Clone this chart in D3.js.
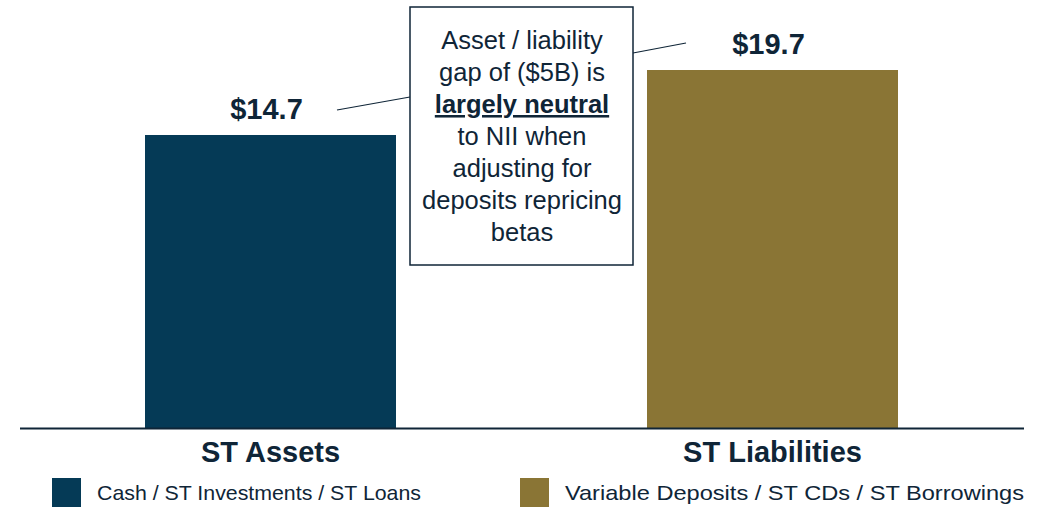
<!DOCTYPE html>
<html>
<head>
<meta charset="utf-8">
<script src="https://cdn.jsdelivr.net/npm/d3@7"></script>
<style>
  body { margin: 0; background: #fff; }
  text { font-family: Arial, "Liberation Sans", sans-serif; fill: #0f2537; }
</style>
</head>
<body>
<div class="chart_gap"></div>
<script>
// data
var categories = ["ST Assets", "ST Liabilities"];
var values = [14.7, 19.7];
var valueLabels = ["$14.7", "$19.7"];
var legendLabels = ["Cash / ST Investments / ST Loans", "Variable Deposits / ST CDs / ST Borrowings"];
var calloutLines = ["Asset / liability", "gap of ($5B) is", "largely neutral", "to NII when", "adjusting for", "deposits repricing", "betas"];

var colors = ["#053a56", "#8a7535"];

var svgWidth = 1042, svgHeight = 508;
var baseY = 428;

var svg = d3.select(".chart_gap")
    .append("svg")
    .attr("width", svgWidth)
    .attr("height", svgHeight);

// x scale: two bands
var xScale = d3.scaleBand()
    .domain(categories)
    .range([19.5, 1023.5])
    .paddingInner(0.5)
    .paddingOuter(0.25);

// y scale (bars in the source are not drawn from zero)
var yScale = d3.scaleLinear()
    .domain([-7.84, 19.7])
    .range([baseY, 70]);

var data = categories.map(function (c, i) {
    return { cat: c, value: values[i], label: valueLabels[i], color: colors[i] };
});

// bars
svg.selectAll("rect.bar")
    .data(data)
    .enter()
    .append("rect")
    .attr("class", "bar")
    .attr("x", function (d) { return xScale(d.cat); })
    .attr("y", function (d) { return yScale(d.value); })
    .attr("width", xScale.bandwidth())
    .attr("height", function (d) { return baseY - yScale(d.value); })
    .attr("fill", function (d) { return d.color; });

// value labels
svg.selectAll("text.value")
    .data(data)
    .enter()
    .append("text")
    .attr("class", "value")
    .attr("x", function (d) { return xScale(d.cat) + xScale.bandwidth() / 2 - 4; })
    .attr("y", function (d) { return yScale(d.value) - 16; })
    .attr("text-anchor", "middle")
    .style("font-size", "29px")
    .style("font-weight", "bold")
    .text(function (d) { return d.label; });

// baseline axis
var bottomAxis = d3.axisBottom(xScale).tickSize(0).tickPadding(13);
var axisG = svg.append("g")
    .attr("transform", "translate(0," + baseY + ")")
    .call(bottomAxis);
axisG.select(".domain").attr("stroke", "#0f2537").attr("stroke-width", 2);
axisG.selectAll(".tick text")
    .style("font-size", "29px")
    .style("font-weight", "bold")
    .style("font-family", "Arial, 'Liberation Sans', sans-serif")
    .attr("fill", "#0f2537");

// legend
var legendX = [52, 520];
var legendW = [324, 459];
var legend = svg.selectAll("g.legend")
    .data(data)
    .enter()
    .append("g")
    .attr("class", "legend")
    .attr("transform", function (d, i) { return "translate(" + legendX[i] + ",478)"; });
legend.append("rect")
    .attr("width", 29)
    .attr("height", 29)
    .attr("fill", function (d) { return d.color; });
legend.append("text")
    .attr("x", 45)
    .attr("y", 22)
    .attr("textLength", function (d, i) { return legendW[i]; })
    .attr("lengthAdjust", "spacingAndGlyphs")
    .style("font-size", "21px")
    .text(function (d, i) { return legendLabels[i]; });

// leader lines
svg.append("line")
    .attr("x1", 337).attr("y1", 110).attr("x2", 410).attr("y2", 97)
    .attr("stroke", "#0f2537").attr("stroke-width", 1.2);
svg.append("line")
    .attr("x1", 633).attr("y1", 53).attr("x2", 686).attr("y2", 43)
    .attr("stroke", "#0f2537").attr("stroke-width", 1.2);

// callout box
svg.append("rect")
    .attr("x", 410).attr("y", 7)
    .attr("width", 223).attr("height", 258)
    .attr("fill", "#fff")
    .attr("stroke", "#0f2537")
    .attr("stroke-width", 1.5);

svg.selectAll("text.callout")
    .data(calloutLines)
    .enter()
    .append("text")
    .attr("class", "callout")
    .attr("x", 522)
    .attr("y", function (d, i) { return 49 + i * 32; })
    .attr("text-anchor", "middle")
    .style("font-size", "25.5px")
    .style("font-weight", function (d, i) { return i === 2 ? "bold" : "normal"; })
    .style("text-decoration", function (d, i) { return i === 2 ? "underline" : "none"; })
    .text(function (d) { return d; });
</script>
</body>
</html>
